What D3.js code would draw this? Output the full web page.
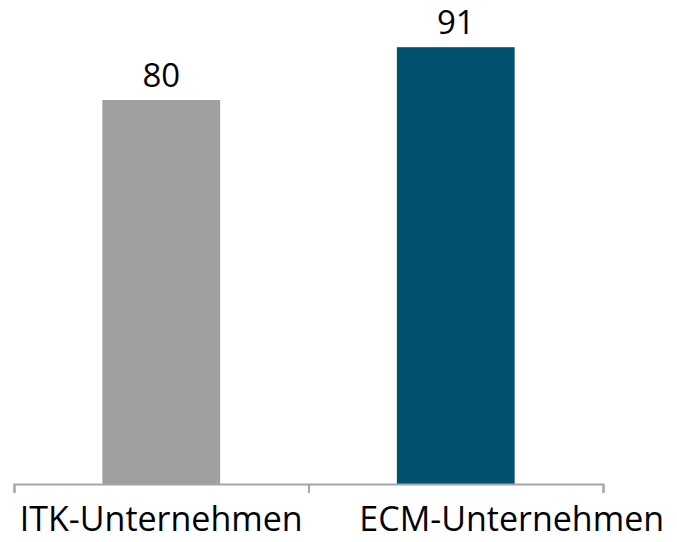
<!DOCTYPE html>
<html>
<head>
<meta charset="utf-8">
<script src="https://cdn.jsdelivr.net/npm/d3@7"></script>
<style>
  body { margin: 0; background: #fff; }
  text { font-family: "Open Sans", sans-serif; fill: #000; }
</style>
</head>
<body>
<div id="chart"></div>
<script>
const categories = ['ITK-Unternehmen', 'ECM-Unternehmen'];
const values = [80, 91];
const colors = ['#a0a0a0', '#00506e'];
const labelShift = [0, 56];

const width = 677, height = 542;
const margin = { left: 14, right: 74, top: 4, bottom: 58 };

const svg = d3.select('#chart').append('svg')
  .attr('width', width)
  .attr('height', height);

const x = d3.scaleBand()
  .domain(categories)
  .range([margin.left, width - margin.right])
  .padding(0);

const y = d3.scaleLinear()
  .domain([0, 100])
  .range([height - margin.bottom, margin.top]);

const barW = x.bandwidth() * 0.4;

svg.selectAll('rect.bar')
  .data(values)
  .enter()
  .append('rect')
  .attr('class', 'bar')
  .attr('x', (d, i) => x(categories[i]) + (x.bandwidth() - barW) / 2)
  .attr('y', d => y(d))
  .attr('width', barW)
  .attr('height', d => y(0) - y(d))
  .attr('fill', (d, i) => colors[i]);

svg.selectAll('text.val')
  .data(values)
  .enter()
  .append('text')
  .attr('class', 'val')
  .attr('x', (d, i) => x(categories[i]) + x.bandwidth() / 2)
  .attr('y', d => y(d) - 13)
  .attr('text-anchor', 'middle')
  .style('font-size', '33px')
  .text(d => d);

// axis with ticks at band boundaries
const xt = d3.scaleLinear().domain([0, categories.length]).range(x.range());
const axis = svg.append('g')
  .attr('transform', 'translate(0,' + y(0) + ')')
  .call(d3.axisBottom(xt).ticks(categories.length).tickSize(9).tickSizeOuter(9).tickFormat(''));
axis.selectAll('path, line').attr('stroke', '#a6a6a6').attr('stroke-width', 2);

svg.selectAll('text.cat')
  .data(categories)
  .enter()
  .append('text')
  .attr('class', 'cat')
  .attr('x', (d, i) => x(d) + x.bandwidth() / 2 + labelShift[i])
  .attr('y', y(0) + 47)
  .attr('text-anchor', 'middle')
  .style('font-size', '34px')
  .text(d => d);
</script>
</body>
</html>
